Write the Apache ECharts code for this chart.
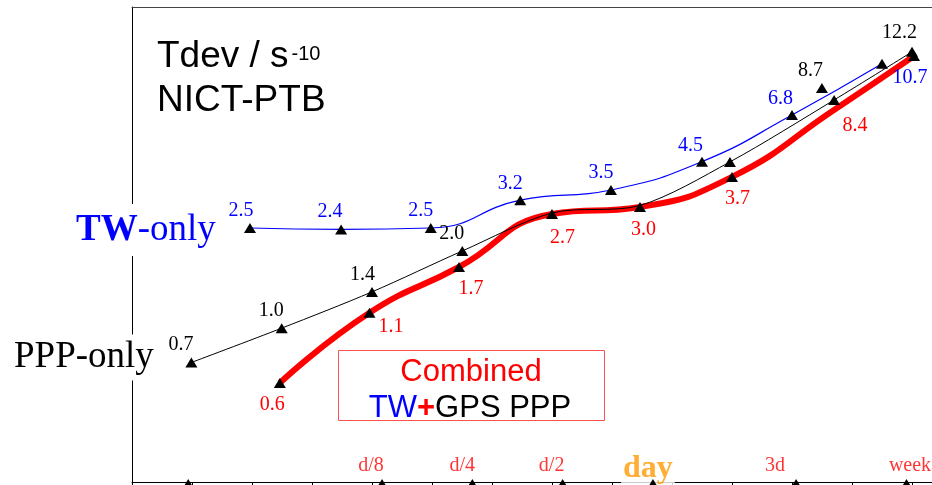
<!DOCTYPE html>
<html><head><meta charset="utf-8">
<script src="https://cdn.jsdelivr.net/npm/echarts@6/dist/echarts.min.js"></script>
<style>html,body{margin:0;padding:0;background:#fff}#c{width:932px;height:485px}</style>
</head><body><div id="c"></div>
<script>
// ---- data (averaging time tau in seconds, Tdev in 1e-10 s) ----
const tauPPP   = [2500, 5000, 10000, 20000, 40000, 78000, 156000, 347000, 631000];
const tdevPPP  = [0.76, 1.03, 1.42, 2.04, 2.86, 3.05, 4.49, 7.77, 11.9];
const labelPPP = ['0.7', '1.0', '1.4', '2.0', '', '', '', '', '12.2'];

const tauPPPExtra   = [316000];
const tdevPPPExtra  = [8.64];
const labelPPPExtra = ['8.7'];

const tauTW   = [3920, 7890, 15700, 31200, 62600, 125900, 251200, 501200];
const tdevTW  = [2.5, 2.47, 2.5, 3.2, 3.5, 4.5, 6.8, 10.7];
const labelTW = ['2.5', '2.4', '2.5', '3.2', '3.5', '4.5', '6.8', '10.7'];

const tauComb   = [4930, 9810, 19500, 39800, 78200, 158500, 346700, 640800];
const tdevComb  = [0.634, 1.18, 1.77, 2.83, 3.01, 3.93, 7.11, 11.47];
const labelComb = ['0.6', '1.1', '1.7', '2.7', '3.0', '3.7', '8.4', ''];

const tauMarks   = [2440, 10800, 21600, 43200, 86400, 259200, 604800];
const labelMarks = ['', 'd/8', 'd/4', 'd/2', 'day', '3d', 'week'];

// ---- axis ranges (log10 of tau spans 3.2 .. 3.2+8/3) ----
const LOG_X_MIN = 3.2, LOG_X_MAX = 3.2 + 8 / 3;
const X_MIN = Math.pow(10, LOG_X_MIN), X_MAX = Math.pow(10, LOG_X_MAX);
const Y_MIN = 0.2637, Y_MAX = 17.70;

// ---- styles ----
const SERIF = "'Liberation Serif','Times New Roman',Times,serif";
const SANS = "'Liberation Sans',Arial,Helvetica,sans-serif";
const TRI = [12, 10];
const offPPP  = [[-10.5,-17.5],[-10.5,-17.5],[-9.5,-17.5],[-10.5,-17],[0,0],[0,0],[0,0],[0,0],[-12.5,-19]];
const offPPPExtra = [[-11.5,-17]];
const offTW   = [[-9,-17],[-11,-18],[-10,-17],[-10,-16.5],[-10,-17.5],[-11.5,-16],[-11.5,-16],[28,13.5]];
const offComb = [[-7.5,22],[21.5,13.5],[12,22],[10.5,23.5],[3.5,23],[5.5,21.5],[21,15.5],[0,0]];
const offMarks = [[0,0],[-11,-16],[-10,-16],[-11,-16],[-5,-13],[-21,-16],[3.5,-16]];
const hidePPP = [4, 5];
const hideComb = [6];
const dayLabelStyle = {fontSize: 32, fontWeight: 'bold', color: '#FF9900', backgroundColor: '#ffffff', padding: [1, 2], lineHeight: 30};

function build(tau, vals, offs, extra) {
  return tau.map((t, i) => {
    const lab = Object.assign({offset: offs[i]}, extra ? extra(i) : {});
    return {value: [t, vals[i]], label: lab};
  });
}
const markVals = tauMarks.map(() => Y_MIN);

const chart = echarts.init(document.getElementById('c'), null, {renderer: 'canvas'});
const noEmph = {disabled: true};
chart.setOption({
  animation: false,
  backgroundColor: '#ffffff',
  grid: {left: 132, right: 0, top: 7, bottom: 3, containLabel: false},
  xAxis: [
    {type: 'log', min: X_MIN, max: X_MAX, position: 'bottom',
     axisLine: {show: true, onZero: false, lineStyle: {color: '#000', width: 1}},
     axisTick: {show: false}, axisLabel: {show: false}, splitLine: {show: false}, minorTick: {show: false}},
    {type: 'value', min: LOG_X_MIN, max: LOG_X_MAX, interval: 0.2, position: 'bottom',
     axisLine: {show: false, onZero: false}, axisTick: {show: true, length: 6, lineStyle: {color: '#000'}},
     axisLabel: {show: false}, splitLine: {show: false}},
    {type: 'value', min: 0, max: 1, position: 'top',
     axisLine: {show: true, onZero: false, lineStyle: {color: '#444', width: 1}},
     axisTick: {show: false}, axisLabel: {show: false}, splitLine: {show: false}}
  ],
  yAxis: [
    {type: 'log', min: Y_MIN, max: Y_MAX, position: 'left',
     axisLine: {show: true, onZero: false, lineStyle: {color: '#000', width: 1}},
     axisTick: {show: false}, axisLabel: {show: false}, splitLine: {show: false}, minorTick: {show: false}}
  ],
  series: [
    {type: 'line', name: 'Combined', xAxisIndex: 0, yAxisIndex: 0, z: 2,
     data: build(tauComb, tdevComb, offComb), smooth: 0.5,
     lineStyle: {color: '#FF0000', width: 6}, itemStyle: {color: '#000'},
     symbol: 'triangle', symbolSize: (v, p) => hideComb.includes(p.dataIndex) ? 0 : TRI, showAllSymbol: true,
     label: {show: true, position: 'inside', formatter: p => labelComb[p.dataIndex], color: '#FF0000', fontFamily: SERIF, fontSize: 20},
     emphasis: noEmph},
    {type: 'line', name: 'PPP-only', xAxisIndex: 0, yAxisIndex: 0, z: 3,
     data: build(tauPPP, tdevPPP, offPPP), smooth: 0.3,
     lineStyle: {color: '#000', width: 1}, itemStyle: {color: '#000'},
     symbol: 'triangle', symbolSize: (v, p) => hidePPP.includes(p.dataIndex) ? 0 : TRI, showAllSymbol: true,
     label: {show: true, position: 'inside', formatter: p => labelPPP[p.dataIndex], color: '#000', fontFamily: SERIF, fontSize: 20},
     emphasis: noEmph},
    {type: 'line', name: 'TW-only', xAxisIndex: 0, yAxisIndex: 0, z: 3,
     data: build(tauTW, tdevTW, offTW), smooth: 0.5,
     lineStyle: {color: '#0000FF', width: 1.2}, itemStyle: {color: '#000'},
     symbol: 'triangle', symbolSize: TRI, showAllSymbol: true,
     label: {show: true, position: 'inside', formatter: p => labelTW[p.dataIndex], color: '#0000FF', fontFamily: SERIF, fontSize: 20},
     emphasis: noEmph},
    {type: 'scatter', name: 'PPP extra', xAxisIndex: 0, yAxisIndex: 0, z: 4,
     data: build(tauPPPExtra, tdevPPPExtra, offPPPExtra),
     symbol: 'triangle', symbolSize: TRI, itemStyle: {color: '#000', opacity: 1},
     label: {show: true, position: 'inside', formatter: p => labelPPPExtra[p.dataIndex], color: '#000', fontFamily: SERIF, fontSize: 20},
     emphasis: noEmph},
    {type: 'scatter', name: 'tau labels', xAxisIndex: 0, yAxisIndex: 0, z: 4, clip: false,
     data: build(tauMarks, markVals, offMarks, i => labelMarks[i] === 'day' ? dayLabelStyle : {}),
     symbol: 'circle', symbolSize: 0, itemStyle: {color: 'rgba(0,0,0,0)'},
     label: {show: true, position: 'inside', formatter: p => labelMarks[p.dataIndex], color: '#FF0000', fontFamily: SERIF, fontSize: 20},
     emphasis: noEmph},
    {type: 'scatter', name: 'tau marks', xAxisIndex: 0, yAxisIndex: 0, z: 5, clip: false,
     data: tauMarks.map((t, i) => [t, markVals[i]]),
     symbol: 'triangle', symbolSize: TRI, symbolOffset: [0, 2], itemStyle: {color: '#000', opacity: 1},
     emphasis: noEmph}
  ],
  graphic: [
    {type: 'text', z: 100, x: 157, y: 57,
     style: {text: 'Tdev / s', font: '37px ' + SANS, fill: '#000', align: 'left', verticalAlign: 'middle'}},
    {type: 'text', z: 100, x: 291.5, y: 54,
     style: {text: '-10', font: '20px ' + SANS, fill: '#000', align: 'left', verticalAlign: 'middle'}},
    {type: 'text', z: 100, x: 157, y: 101,
     style: {text: 'NICT-PTB', font: '37px ' + SANS, fill: '#000', align: 'left', verticalAlign: 'middle'}},
    {type: 'text', z: 100, x: 74, y: 230,
     style: {text: '{b|TW}{n|-only}', align: 'left', verticalAlign: 'middle', backgroundColor: '#fff', padding: [4, 2],
       rich: {b: {fontFamily: SERIF, fontWeight: 'bold', fontSize: 37, fill: '#0000FF', lineHeight: 44},
              n: {fontFamily: SERIF, fontSize: 37, fill: '#0000FF', lineHeight: 44}}}},
    {type: 'text', z: 100, x: 12, y: 357.5,
     style: {text: 'PPP-only', align: 'left', verticalAlign: 'middle', backgroundColor: '#fff', padding: [3, 2],
       font: '37px ' + SERIF, fill: '#000', lineHeight: 40}},
    {type: 'rect', z: 100, shape: {x: 338.5, y: 350.5, width: 266, height: 70},
     style: {fill: 'rgba(0,0,0,0)', stroke: '#FF5050', lineWidth: 1}},
    {type: 'text', z: 101, x: 471, y: 372,
     style: {text: 'Combined', font: '31px ' + SANS, fill: '#FF0000', align: 'center', verticalAlign: 'middle'}},
    {type: 'text', z: 101, x: 470, y: 408,
     style: {text: '{k|TW}{p|+}{g|GPS PPP}', align: 'center', verticalAlign: 'middle',
       rich: {k: {fontFamily: SANS, fontSize: 31, fill: '#0000FF'},
              p: {fontFamily: SANS, fontSize: 31, fontWeight: 'bold', fill: '#FF0000'},
              g: {fontFamily: SANS, fontSize: 31, fill: '#000'}}}}
  ]
});
</script></body></html>
